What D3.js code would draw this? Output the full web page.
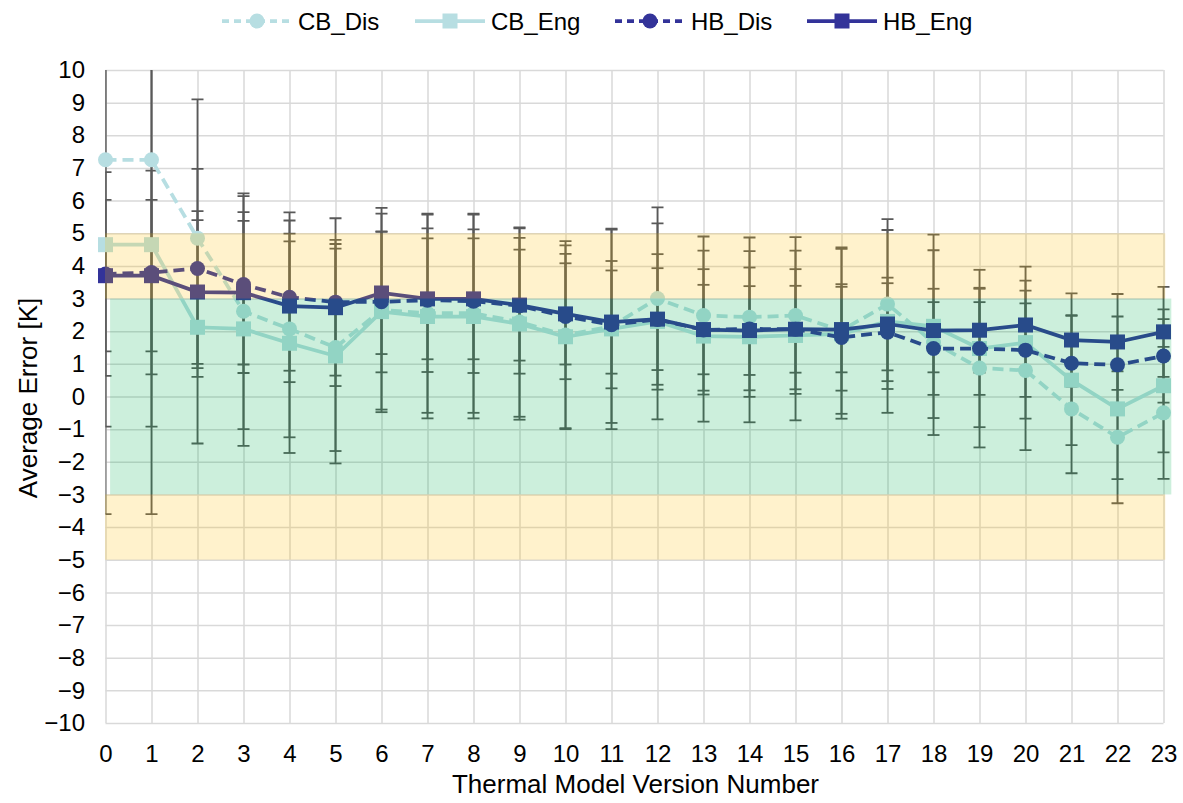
<!DOCTYPE html>
<html lang="en">
<head>
<meta charset="utf-8">
<script src="https://d3js.org/d3.v7.min.js"></script>
<style>
  body { margin: 0; background: #fff; }
  svg text { font-family: "Liberation Sans", Arial, sans-serif; fill: #000; }
</style>
</head>
<body>
<div id="chart"></div>
<script>
// x categories
const versions = [0,1,2,3,4,5,6,7,8,9,10,11,12,13,14,15,16,17,18,19,20,21,22,23];

// series values [K] and symmetric error bar sizes
const cbDis    = [7.25,7.25,4.85,2.61,2.07,1.50,2.65,2.55,2.55,2.28,1.88,2.15,3.00,2.48,2.43,2.48,2.02,2.83,1.65,0.87,0.80,-0.38,-1.25,-0.50];
const cbDisErr = [10.85,10.85,4.25,3.61,3.32,3.17,3.13,3.05,3.05,2.90,2.88,2.96,2.79,2.42,2.44,2.40,2.55,2.60,2.83,2.43,2.44,1.97,2.02,2.02];
const cbEng    = [4.65,4.65,2.12,2.07,1.63,1.24,2.60,2.45,2.45,2.22,1.83,2.07,2.30,1.85,1.83,1.87,1.92,2.30,2.15,1.47,1.65,0.50,-0.38,0.33];
const cbEngErr = [5.57,5.57,3.56,3.58,3.36,3.29,3.00,3.12,3.12,2.93,2.80,3.07,3.00,2.62,2.62,2.60,2.60,2.80,2.81,2.41,2.33,1.99,2.15,2.04];
const hbDis    = [3.75,3.80,3.92,3.43,3.04,2.89,2.90,2.95,2.92,2.78,2.45,2.20,2.36,2.04,2.07,2.06,1.81,1.97,1.47,1.47,1.42,1.02,0.97,1.24];
const hbDisErr = [3.12,3.12,3.05,2.71,2.60,2.57,2.16,2.20,2.20,2.08,1.92,1.95,2.00,1.86,1.88,1.84,1.63,1.50,1.42,1.42,1.43,1.45,1.48,1.43];
const hbEng    = [3.70,3.70,3.20,3.18,2.77,2.72,3.17,2.99,2.99,2.80,2.53,2.28,2.37,2.05,2.02,2.06,2.05,2.22,2.02,2.03,2.19,1.73,1.67,1.98];
const hbEngErr = [2.32,2.32,2.20,2.20,1.98,2.08,1.87,1.85,1.85,1.70,1.55,1.58,1.56,1.37,1.36,1.33,1.31,1.42,1.28,1.30,1.36,1.43,1.47,1.38];

const yTicks = [-10,-9,-8,-7,-6,-5,-4,-3,-2,-1,0,1,2,3,4,5,6,7,8,9,10];

// tolerance bands: [from, to] in K
const yellowBands = [[3,5],[-5,-3]];
const greenBands = [[-3,3]];

const seriesNames = ["CB_Dis","CB_Eng","HB_Dis","HB_Eng"];

const CB = "#b7dee2", HB = "#333399";
const series = [
  {name: seriesNames[0], vals: cbDis, err: cbDisErr, color: CB, dash: "11,6", shape: "circle"},
  {name: seriesNames[1], vals: cbEng, err: cbEngErr, color: CB, dash: null,   shape: "square"},
  {name: seriesNames[2], vals: hbDis, err: hbDisErr, color: HB, dash: "11,6", shape: "circle"},
  {name: seriesNames[3], vals: hbEng, err: hbEngErr, color: HB, dash: null,   shape: "square"}
];

const W = 1183, H = 803;
const plotL = 105.5, plotR = 1163.5, plotT = 70, plotB = 723;

const svg = d3.select("#chart").append("svg")
  .attr("width", W).attr("height", H);

const x = d3.scaleLinear().domain([0, 23]).range([plotL, plotR]);
const y = d3.scaleLinear().domain([-10, 10]).range([plotB, plotT]);

// grid + tick labels
const gy = svg.append("g")
  .attr("transform", "translate(" + plotL + ",0)")
  .call(d3.axisLeft(y).tickValues(yTicks).tickSize(-(plotR - plotL)).tickPadding(20.5).tickFormat(d3.format("d")));
const gx = svg.append("g")
  .attr("transform", "translate(0," + plotB + ")")
  .call(d3.axisBottom(x).tickValues(versions).tickSize(-(plotB - plotT)).tickPadding(22).tickFormat(d3.format("d")));
[gx, gy].forEach(g => {
  g.select(".domain").remove();
  g.selectAll("line").attr("stroke", "#d9d9d9").attr("stroke-width", 1.5);
  g.selectAll("text").style("font-size", "24px").attr("fill", "#000");
});

// clip for error bars
svg.append("clipPath").attr("id", "plotclip")
  .append("rect").attr("x", plotL).attr("y", plotT)
  .attr("width", plotR - plotL + 10).attr("height", plotB - plotT);

const eb = svg.append("g").attr("clip-path", "url(#plotclip)");
series.forEach(s => {
  const g = eb.append("g").attr("stroke", "#595959").attr("stroke-width", 1.8);
  versions.forEach((v, i) => {
    const hi = y(s.vals[i] + s.err[i]), lo = y(s.vals[i] - s.err[i]), cx = x(v);
    g.append("line").attr("x1", cx).attr("x2", cx).attr("y1", hi).attr("y2", lo);
    g.append("line").attr("x1", cx - 6).attr("x2", cx + 6).attr("y1", hi).attr("y2", hi);
    g.append("line").attr("x1", cx - 6).attr("x2", cx + 6).attr("y1", lo).attr("y2", lo);
  });
});

// lines + markers
const line = d3.line().x((d, i) => x(versions[i])).y(d => y(d));
function marker(g, shape, cx, cy, color) {
  if (shape === "circle") {
    g.append("circle").attr("cx", cx).attr("cy", cy).attr("r", 7.5).attr("fill", color);
  } else {
    g.append("rect").attr("x", cx - 7.5).attr("y", cy - 7.5).attr("width", 15).attr("height", 15).attr("fill", color);
  }
}
series.forEach(s => {
  const g = svg.append("g");
  g.append("path").datum(s.vals)
    .attr("d", line)
    .attr("fill", "none")
    .attr("stroke", s.color)
    .attr("stroke-width", 3.75)
    .attr("stroke-dasharray", s.dash);
  s.vals.forEach((v, i) => marker(g, s.shape, x(versions[i]), y(v), s.color));
});

// bands overlay (semi transparent)
yellowBands.forEach(b => {
  svg.append("rect")
    .attr("x", x(0) - 0.5).attr("width", x(23.05) - x(0))
    .attr("y", y(b[1])).attr("height", y(b[0]) - y(b[1]))
    .attr("fill", "#ffc000").attr("fill-opacity", 0.2);
});
greenBands.forEach(b => {
  svg.append("rect")
    .attr("x", x(0.1)).attr("width", x(23.17) - x(0.1))
    .attr("y", y(b[1])).attr("height", y(b[0]) - y(b[1]))
    .attr("fill", "#00b050").attr("fill-opacity", 0.2);
});

// axis titles
svg.append("text")
  .attr("x", (plotL + plotR) / 2 + 1).attr("y", 793)
  .attr("text-anchor", "middle").style("font-size", "26px")
  .text("Thermal Model Version Number");
svg.append("text")
  .attr("transform", "translate(37," + 398 + ") rotate(-90)")
  .attr("text-anchor", "middle").style("font-size", "26px")
  .text("Average Error [K]");

// legend
const legendX = [222, 415, 615, 807];
series.forEach((s, i) => {
  const g = svg.append("g").attr("transform", "translate(" + legendX[i] + ",21)");
  g.append("line").attr("x1", 0).attr("x2", 70).attr("y1", 0).attr("y2", 0)
    .attr("stroke", s.color).attr("stroke-width", 3.75).attr("stroke-dasharray", s.dash ? "7,5" : null);
  marker(g, s.shape, 35, 0, s.color);
  g.append("text").attr("x", 76).attr("y", 8.5).style("font-size", "24px").text(s.name);
});
</script>
</body>
</html>
